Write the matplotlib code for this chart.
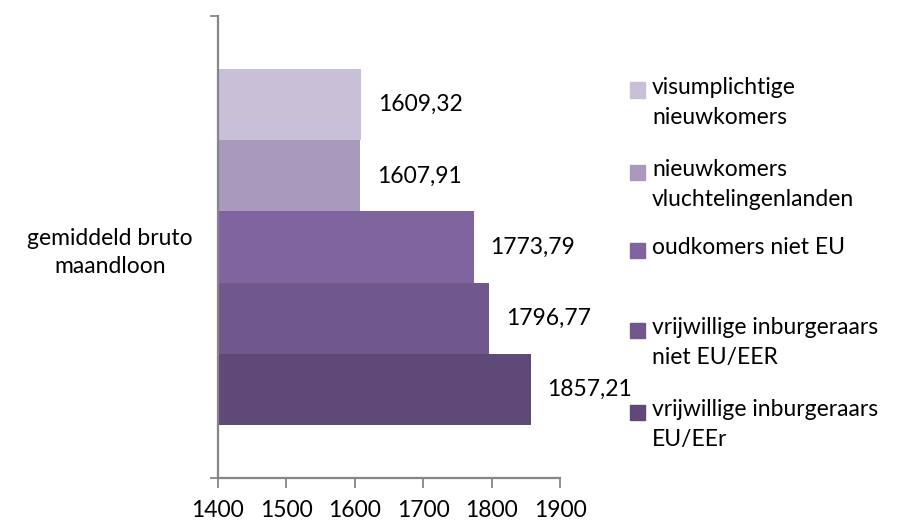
import matplotlib
matplotlib.use("Agg")
import matplotlib.pyplot as plt
from matplotlib.patches import Rectangle

plt.rcParams['font.family'] = ['Lato', 'DejaVu Sans']

# data (legend order, top bar first)
series = ["visumplichtige\nnieuwkomers",
          "nieuwkomers\nvluchtelingenlanden",
          "oudkomers niet EU",
          "vrijwillige inburgeraars\nniet EU/EER",
          "vrijwillige inburgeraars\nEU/EEr"]
values = [1609.32, 1607.91, 1773.79, 1796.77, 1857.21]
value_labels = ["1609,32", "1607,91", "1773,79", "1796,77", "1857,21"]
colors = ["#C8C0D6", "#A99ABD", "#8064A0", "#70588C", "#5F4978"]
category = "gemiddeld bruto\nmaandloon"
xticks = [1400, 1500, 1600, 1700, 1800, 1900]

W, H = 902, 522
FS = 16.5
fig = plt.figure(figsize=(W / 100, H / 100), dpi=100)


def fx(px):
    return px / W


def fy(py):
    return 1 - py / H


ax = fig.add_axes([fx(217.7), fy(478), fx(560) - fx(217.7), fy(16) - fy(478)])

bh = 0.154
axis_col = "#868686"
for i, (v, c, lab) in enumerate(zip(values, colors, value_labels)):
    y = (2 - i) * bh
    ax.barh(y, v - 1400, left=1400, height=bh, color=c, edgecolor='none')
    ax.annotate(lab, (v, y), xytext=(12, 0), textcoords='offset points',
                va='center', ha='left', fontsize=FS, color='black')

ax.set_xlim(1400, 1900)
ax.set_ylim(-0.5, 0.5)
ax.set_xticks(xticks)
ax.set_xticklabels([str(t) for t in xticks], fontsize=FS)
ax.tick_params(axis='x', direction='out', length=7, width=1.3, color=axis_col, pad=9)

ax.set_yticks([0])
ax.set_yticklabels([category], fontsize=FS, multialignment='center', linespacing=1.4)
ax.set_yticks([-0.5, 0.5], minor=True)
ax.tick_params(axis='y', which='major', length=0, pad=18)
ax.tick_params(axis='y', which='minor', direction='out', length=6, width=1.3, color=axis_col)

for s in ['top', 'right']:
    ax.spines[s].set_visible(False)
for s in ['left', 'bottom']:
    ax.spines[s].set_color(axis_col)
    ax.spines[s].set_linewidth(1.6)
ax.set_facecolor('none')

# legend, placed like the original
leg_y = [90, 172, 250, 330, 412]
for name, c, y in zip(series, colors, leg_y):
    fig.add_artist(Rectangle((fx(630), fy(y + 7.5)), fx(15), fy(0) - fy(15),
                             transform=fig.transFigure, color=c))
    fig.text(fx(652), fy(y - 13), name, fontsize=FS, ha='left', va='top',
             linespacing=1.55)

fig.savefig("out.png", dpi=100)
